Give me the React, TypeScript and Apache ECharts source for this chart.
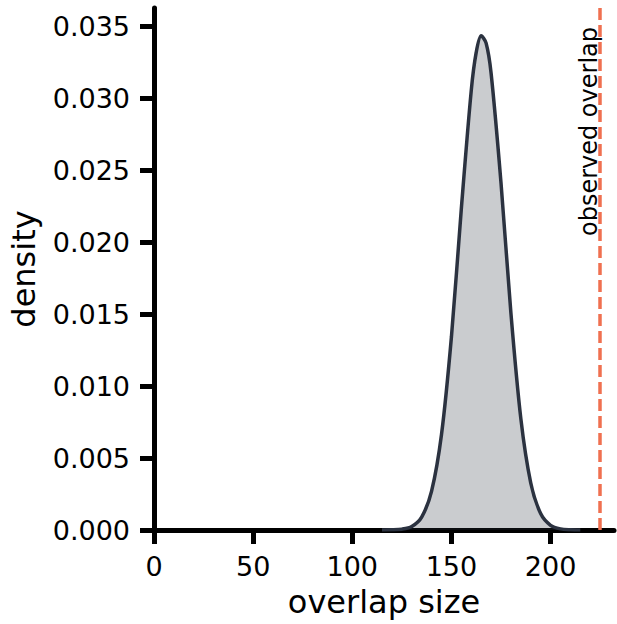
import React, { useEffect, useRef } from "react";
import * as echarts from "echarts";

const overlapSize = [115, 120, 125, 130, 135, 140, 145, 150, 155, 160, 162.5, 165, 167.5, 170, 175, 180, 185, 190, 195, 200, 205, 210, 215];
const density = [0.000002, 0.00001, 0.000056, 0.000247, 0.0009, 0.0027, 0.00664, 0.01342, 0.02234, 0.03056, 0.03321, 0.03437, 0.03386, 0.03178, 0.02416, 0.0151, 0.00776, 0.00328, 0.00114, 0.000325, 0.000076, 0.000015, 0.000002];
const observedOverlap = 225;
const xTicks = [0, 50, 100, 150, 200];
const yTicks = [0, 0.005, 0.01, 0.015, 0.02, 0.025, 0.03, 0.035];

const FONT = "DejaVu Sans";

export default function App() {
  const ref = useRef<HTMLDivElement>(null);
  useEffect(() => {
    if (!ref.current) return;
    const chart = echarts.init(ref.current, undefined, { renderer: "svg" });
    const axisCommon = {
      axisLine: { show: true, lineStyle: { color: "#000", width: 5 } },
      axisTick: { show: true, length: 14, lineStyle: { color: "#000", width: 5 } },
      splitLine: { show: false },
    };
    chart.setOption({
      animation: false,
      grid: { left: 152, right: 3, top: 8, bottom: 94, containLabel: false },
      xAxis: {
        type: "value",
        min: 0,
        max: 232,
        ...axisCommon,
        axisTick: { ...axisCommon.axisTick, customValues: xTicks },
        axisLabel: { customValues: xTicks, color: "#000", fontFamily: FONT, fontSize: 27, margin: 23 },
        name: "overlap size",
        nameLocation: "middle",
        nameGap: 56,
        nameTextStyle: { color: "#000", fontFamily: FONT, fontSize: 32 },
      },
      yAxis: {
        type: "value",
        min: 0,
        max: 0.0363,
        ...axisCommon,
        axisTick: { ...axisCommon.axisTick, customValues: yTicks },
        axisLabel: {
          customValues: yTicks,
          color: "#000",
          fontFamily: FONT,
          fontSize: 27,
          margin: 24,
          formatter: (v: number) => v.toFixed(3),
        },
        name: "density",
        nameLocation: "middle",
        nameGap: 114,
        nameTextStyle: { color: "#000", fontFamily: FONT, fontSize: 32 },
      },
      series: [
        {
          type: "line",
          data: overlapSize.map((x, i) => [x, density[i]]),
          smooth: 0.3,
          showSymbol: false,
          lineStyle: { color: "#2b3240", width: 3.5 },
          areaStyle: { color: "#2b3240", opacity: 0.25 },
          markLine: {
            silent: true,
            symbol: "none",
            label: { show: false },
            lineStyle: { color: "#f07050", width: 3.5, type: [12, 5], opacity: 1 },
            data: [{ xAxis: observedOverlap }],
          },
        },
      ],
      graphic: [
        {
          type: "text",
          x: 589,
          y: 27,
          rotation: Math.PI / 2,
          style: {
            text: "observed overlap",
            fontFamily: FONT,
            fontSize: 24,
            fill: "#000",
            align: "right",
            verticalAlign: "middle",
          },
        },
      ],
    });
    return () => chart.dispose();
  }, []);
  return <div ref={ref} style={{ width: 617, height: 624, position: "absolute", left: 0, top: 0 }} />;
}
